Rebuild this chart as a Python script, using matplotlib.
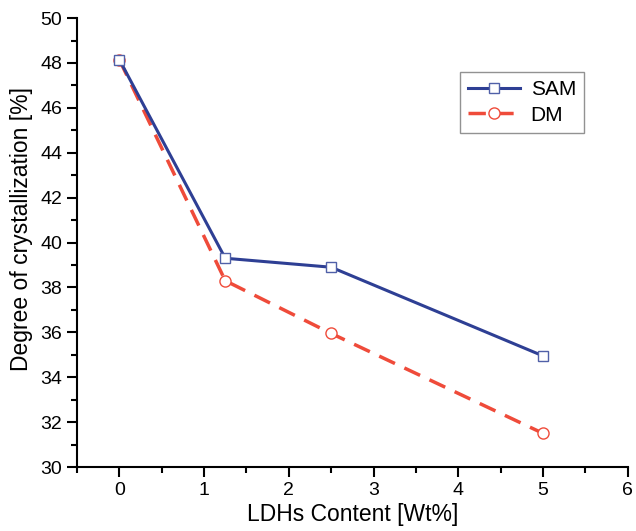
import matplotlib
matplotlib.use("Agg")
import matplotlib.pyplot as plt
from matplotlib.ticker import MultipleLocator

plt.rcParams['font.family'] = ['Liberation Sans', 'DejaVu Sans']

x = [0, 1.25, 2.5, 5]
sam = [48.15, 39.3, 38.9, 34.95]
dm = [48.15, 38.3, 35.95, 31.5]

blue = '#2e3f94'
red = '#ef4b3a'

fig = plt.figure(figsize=(6.36, 5.31), dpi=100)
ax = fig.add_axes([0.121, 0.1205, 0.866, 0.8455])

ax.plot(x, sam, color=blue, lw=2.2, marker='s', ms=7, mfc='white', mec='#5060a8', mew=1.0, label='SAM', zorder=3)
ax.plot(x, dm, color=red, lw=2.5, ls=(0, (5, 3)), marker='o', ms=8, mfc='white', mec=red, mew=1.0, label='DM', zorder=2)

ax.set_xlim(-0.5, 6)
ax.set_ylim(30, 50)
ax.xaxis.set_major_locator(MultipleLocator(1))
ax.xaxis.set_minor_locator(MultipleLocator(0.5))
ax.yaxis.set_major_locator(MultipleLocator(2))
ax.yaxis.set_minor_locator(MultipleLocator(1))
for s in ['top', 'right']:
    ax.spines[s].set_visible(False)
for s in ['left', 'bottom']:
    ax.spines[s].set_linewidth(1.5)
ax.tick_params(which='major', direction='out', length=7, width=1.5, labelsize=14)
ax.tick_params(which='minor', direction='out', length=4, width=1.5)

ax.set_xlabel('LDHs Content [Wt%]', fontsize=16.5, labelpad=3)
ax.set_ylabel('Degree of crystallization [%]', fontsize=16.5)
ax.yaxis.set_label_coords(-0.08, 0.53)

leg = ax.legend(loc='upper left', bbox_to_anchor=(0.695, 0.88), borderaxespad=0,
                fontsize=15, frameon=True,
                fancybox=False, edgecolor='#777777', handlelength=2.5, borderpad=0.4,
                labelspacing=0.3, handletextpad=0.5)
leg.get_frame().set_linewidth(1.0)

fig.savefig('out.png', dpi=100)
